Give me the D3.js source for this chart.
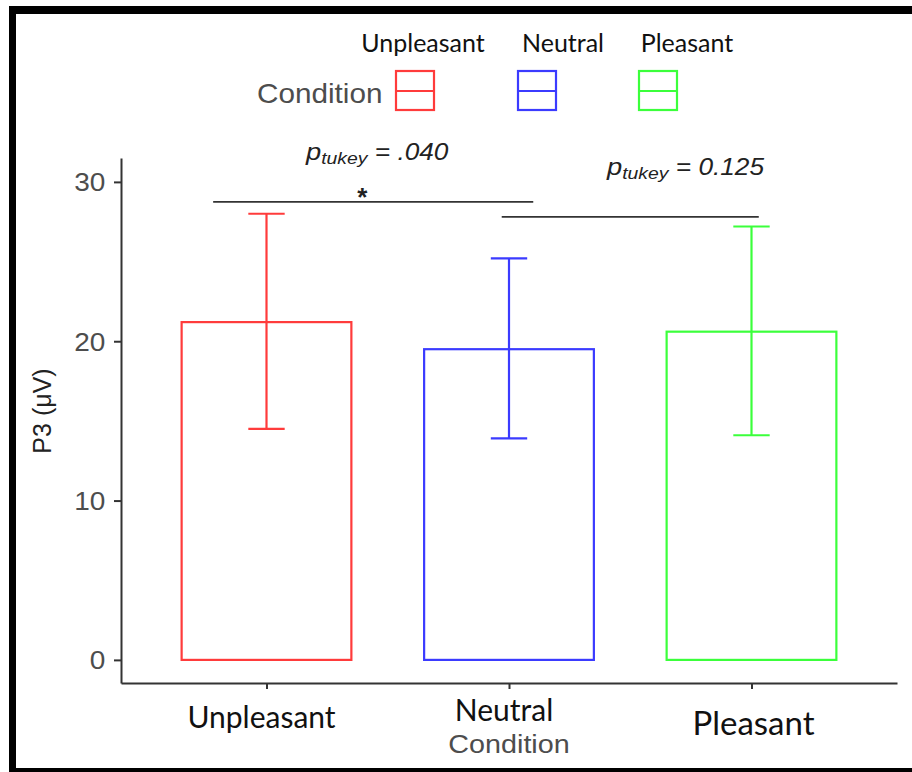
<!DOCTYPE html>
<html>
<head>
<meta charset="utf-8">
<script src="https://cdn.jsdelivr.net/npm/d3@7"></script>
<style>
  html, body { margin: 0; padding: 0; background: #fff; }
  svg { display: block; }
</style>
</head>
<body>
<div id="chart"></div>
<script>
const conditions = ['Unpleasant', 'Neutral', 'Pleasant'];
const meanP3 = [21.2, 19.5, 20.6];
const upperP3 = [28.0, 25.2, 27.2];
const lowerP3 = [14.5, 13.9, 14.1];
const colors = ['#ff3b3b', '#3b3bff', '#3bff3b'];
const yTicks = [0, 10, 20, 30];

// significance brackets: positions in category index units, height in µV
const bracketFrom = [-0.22, 0.97];
const bracketTo = [1.1, 2.03];
const bracketY = [28.75, 27.8];
const bracketP = ['.040', '0.125'];
const bracketStar = ['*', ''];

const W = 912, H = 772;
const GRAY = '#4d4d4d';
const LINE = '#333333';

const svg = d3.select('#chart').append('svg')
  .attr('width', W)
  .attr('height', H);

svg.append('rect').attr('width', W).attr('height', H).attr('fill', '#fff');

// frame of the screenshot
svg.append('rect').attr('x', 9).attr('y', 6).attr('width', W - 9).attr('height', 8).attr('fill', '#000');
svg.append('rect').attr('x', 9).attr('y', 6).attr('width', 7).attr('height', H - 6).attr('fill', '#000');
svg.append('rect').attr('x', 9).attr('y', 768).attr('width', W - 9).attr('height', 4).attr('fill', '#000');

const x = d3.scalePoint()
  .domain(conditions)
  .range([121, 897])
  .padding(0.6);
const step = x.step();

const y = d3.scaleLinear()
  .domain([-1.45, 31.5])
  .range([683, 158]);

const xi = d3.scaleLinear()
  .domain([0, conditions.length - 1])
  .range([x(conditions[0]), x(conditions[conditions.length - 1])]);

// helper for horizontally stretched Arial-like text
const stretchText = (g, tx, ty, sx, txt) => g.append('text')
  .attr('transform', 'translate(' + tx + ',' + ty + ') scale(' + sx + ',1)')
  .text(txt);

// y axis
const yAxis = svg.append('g')
  .attr('transform', 'translate(121,0)')
  .call(d3.axisLeft(y).tickValues(yTicks).tickSize(7).tickSizeOuter(0).tickPadding(8));
yAxis.select('.domain').attr('stroke', LINE).attr('stroke-width', 2);
yAxis.selectAll('.tick line').attr('stroke', LINE).attr('stroke-width', 2);
yAxis.selectAll('.tick text')
  .attr('fill', GRAY)
  .attr('font-family', 'Liberation Sans, Arial, sans-serif')
  .attr('font-size', 25)
  .attr('dy', '0.36em')
  .attr('x', -14)
  .attr('transform', 'scale(1.12,1)');

// x axis
const xAxis = svg.append('g')
  .attr('transform', 'translate(0,683)')
  .call(d3.axisBottom(x).tickSize(6).tickSizeOuter(0).tickFormat(''));
xAxis.select('.domain').attr('stroke', LINE).attr('stroke-width', 2);
xAxis.selectAll('.tick line').attr('stroke', LINE).attr('stroke-width', 2);

// y axis title
svg.append('text')
  .attr('transform', 'translate(51,411) rotate(-90)')
  .attr('text-anchor', 'middle')
  .attr('font-family', 'Liberation Sans, Arial, sans-serif')
  .attr('font-size', 25)
  .attr('fill', '#222')
  .text('P3 (\u03bcV)');

// bars
const rows = conditions.map((c, i) => ({ c, mean: meanP3[i], hi: upperP3[i], lo: lowerP3[i], col: colors[i] }));

svg.selectAll('.bar')
  .data(rows)
  .enter()
  .append('rect')
  .attr('class', 'bar')
  .attr('x', (d) => x(d.c) - step * 0.35)
  .attr('width', step * 0.7)
  .attr('y', (d) => y(d.mean))
  .attr('height', (d) => y(0) - y(d.mean))
  .attr('fill', 'none')
  .attr('stroke', (d) => d.col)
  .attr('stroke-width', 2.2);

// error bars
const eb = svg.selectAll('.err')
  .data(rows)
  .enter()
  .append('g')
  .attr('class', 'err')
  .attr('stroke', (d) => d.col)
  .attr('stroke-width', 2.2);
eb.append('line')
  .attr('x1', (d) => x(d.c)).attr('x2', (d) => x(d.c))
  .attr('y1', (d) => y(d.hi)).attr('y2', (d) => y(d.lo));
eb.append('line')
  .attr('x1', (d) => x(d.c) - step * 0.075).attr('x2', (d) => x(d.c) + step * 0.075)
  .attr('y1', (d) => y(d.hi)).attr('y2', (d) => y(d.hi));
eb.append('line')
  .attr('x1', (d) => x(d.c) - step * 0.075).attr('x2', (d) => x(d.c) + step * 0.075)
  .attr('y1', (d) => y(d.lo)).attr('y2', (d) => y(d.lo));

// significance brackets
bracketY.forEach((v, i) => {
  svg.append('line')
    .attr('x1', xi(bracketFrom[i])).attr('x2', xi(bracketTo[i]))
    .attr('y1', y(v)).attr('y2', y(v))
    .attr('stroke', LINE)
    .attr('stroke-width', 1.8);
  if (bracketStar[i]) {
    svg.append('text')
      .attr('x', (xi(bracketFrom[i]) + xi(bracketTo[i])) / 2 - 11)
      .attr('y', y(v) + 4)
      .attr('text-anchor', 'middle')
      .attr('font-family', 'Liberation Sans, Arial, sans-serif')
      .attr('font-size', 26)
      .attr('font-weight', 'bold')
      .attr('fill', '#222')
      .text(bracketStar[i]);
  }
});

// p-value labels
const pPos = [[306, 160], [607, 175]];
bracketP.forEach((p, i) => {
  const t = svg.append('text')
    .attr('transform', 'translate(' + pPos[i][0] + ',' + pPos[i][1] + ') scale(1.14,1)')
    .attr('font-family', 'Liberation Sans, Arial, sans-serif')
    .attr('font-style', 'italic')
    .attr('fill', '#222');
  t.append('tspan').attr('font-size', 24).text('p');
  t.append('tspan').attr('font-size', 17).attr('dy', 4).text('tukey');
  t.append('tspan').attr('font-size', 23).attr('dy', -4).text(' = ' + p);
});

// x tick labels (Calibri-like)
const xLabelSize = [30, 30, 33];
const xLabelBase = [728, 721, 735];
const xLabelShift = [-5, -5, 2];
conditions.forEach((c, i) => {
  svg.append('text')
    .attr('x', x(c) + xLabelShift[i])
    .attr('y', xLabelBase[i])
    .attr('text-anchor', 'middle')
    .attr('font-family', 'Lato, "Open Sans", sans-serif')
    .attr('font-size', xLabelSize[i])
    .attr('fill', '#111')
    .text(c);
});

// x axis title
stretchText(svg, x(conditions[1]), 753, 1.15, 'Condition')
  .attr('text-anchor', 'middle')
  .attr('font-family', 'Liberation Sans, Arial, sans-serif')
  .attr('font-size', 25)
  .attr('fill', GRAY);

// legend
stretchText(svg, 257, 103, 1.1, 'Condition')
  .attr('font-family', 'Liberation Sans, Arial, sans-serif')
  .attr('font-size', 27)
  .attr('fill', GRAY);

const keyX = [395, 517, 638];
const keyLabelX = [423, 563, 687];
conditions.forEach((c, i) => {
  const g = svg.append('g').attr('transform', 'translate(' + keyX[i] + ',70)');
  g.append('rect')
    .attr('x', 1).attr('y', 1).attr('width', 38).attr('height', 39)
    .attr('fill', 'none').attr('stroke', colors[i]).attr('stroke-width', 2.2);
  g.append('line')
    .attr('x1', 1).attr('x2', 39).attr('y1', 21).attr('y2', 21)
    .attr('stroke', colors[i]).attr('stroke-width', 2.2);
  svg.append('text')
    .attr('x', keyLabelX[i])
    .attr('y', 52)
    .attr('text-anchor', 'middle')
    .attr('font-family', 'Lato, "Open Sans", sans-serif')
    .attr('font-size', 25)
    .attr('fill', '#111')
    .text(c);
});
</script>
</body>
</html>
